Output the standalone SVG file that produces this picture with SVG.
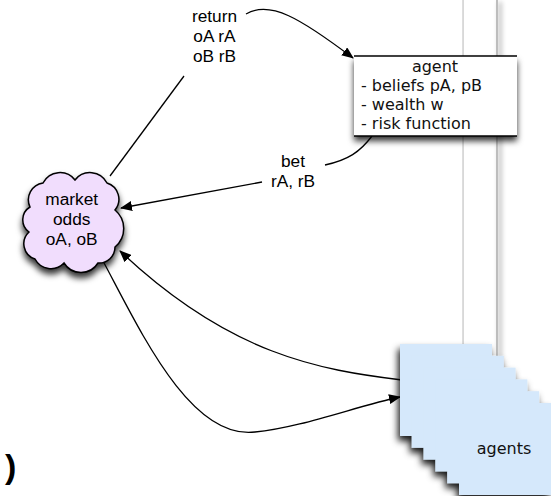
<svg xmlns="http://www.w3.org/2000/svg" width="551" height="496" viewBox="0 0 551 496">
<style>
.lbl{font-family:"Liberation Sans",Arial,sans-serif;font-size:17.3px;fill:#000;text-anchor:middle}
.dv{font-family:"DejaVu Sans",Verdana,sans-serif;font-size:16px;fill:#111}
.con{fill:none;stroke:#000;stroke-width:1.3}
</style>
<defs>
<filter id="sh" x="-20%" y="-20%" width="140%" height="150%">
<feDropShadow dx="0" dy="5" stdDeviation="3" flood-color="#000" flood-opacity="0.8"/>
</filter>
<filter id="ssh" x="-20%" y="-20%" width="140%" height="140%">
<feDropShadow dx="-2" dy="5" stdDeviation="3.5" flood-color="#000" flood-opacity="0.9"/>
</filter>
<filter id="lsh" filterUnits="userSpaceOnUse" x="480" y="-10" width="40" height="380">
<feDropShadow dx="3" dy="2" stdDeviation="2.5" flood-color="#000" flood-opacity="0.45"/>
</filter>
<marker id="ah" viewBox="0 0 12 10" refX="11" refY="5" markerWidth="12" markerHeight="10" markerUnits="userSpaceOnUse" orient="auto">
<path d="M0,0 L12,5 L0,10 Z" fill="#000"/>
</marker>
</defs>
<rect width="551" height="496" fill="#fff"/>
<g id="lanes">
<rect x="462.3" y="0" width="1.5" height="345" fill="#cfcfcf"/>
<rect x="496" y="0" width="2" height="358" fill="#bdbdbd" filter="url(#lsh)"/>
</g>
<g id="connectors">
<path class="con" d="M110,176 L184,76"/>
<path class="con" d="M246,14 C270,0 300,18 353,58" marker-end="url(#ah)"/>
<path class="con" d="M372,136 C360,152 348,160 325,165"/>
<path class="con" d="M262,182 L121,208" marker-end="url(#ah)"/>
<path class="con" d="M103,261 C140,330 190,440 255,432 C300,428 360,405 400,397" marker-end="url(#ah)"/>
<path class="con" d="M402,380 C320,370 230,355 120,251" marker-end="url(#ah)"/>
</g>
<g id="labels">
<text class="lbl" x="214.5" y="21.7">return</text>
<text class="lbl" x="214.5" y="42.3">oA rA</text>
<text class="lbl" x="214.5" y="62.3">oB rB</text>
<text class="lbl" x="293" y="166.7">bet</text>
<text class="lbl" x="293" y="186.7">rA, rB</text>
</g>
<g id="market">
<path filter="url(#sh)" fill="#f1ddfd" stroke="#000" stroke-width="1.5" d="M30,207 A17,17 0 0 1 43,183 A19,19 0 0 1 75,180 A19,19 0 0 1 107,183 A17,17 0 0 1 115,210 A24,24 0 0 1 115,247 A16,16 0 0 1 98,263 A20,20 0 0 1 64,263 A18,18 0 0 1 35,259 A16,16 0 0 1 29,232 A15,15 0 0 1 30,207 Z"/>
<text class="lbl" x="71.7" y="205">market</text>
<text class="lbl" x="71.7" y="225">odds</text>
<text class="lbl" x="71.7" y="245">oA, oB</text>
</g>
<g id="agent">
<rect x="354" y="56" width="163" height="80" fill="#fff" filter="url(#sh)"/>
<line x1="354" y1="56" x2="517" y2="56" stroke="#000" stroke-width="1.5"/>
<line x1="354" y1="136" x2="517" y2="136" stroke="#000" stroke-width="1.5"/>
<text class="dv" x="435" y="71.7" text-anchor="middle">agent</text>
<text class="dv" x="361" y="90.7">- beliefs pA, pB</text>
<text class="dv" x="361" y="110">- wealth w</text>
<text class="dv" x="361" y="129">- risk function</text>
</g>
<g id="agents">
<g fill="#d5e8fb" filter="url(#ssh)">
<rect x="400" y="344" width="92" height="92"/>
<rect x="411.8" y="355.8" width="92" height="92"/>
<rect x="423.6" y="367.6" width="92" height="92"/>
<rect x="435.4" y="379.4" width="92" height="92"/>
<rect x="447.2" y="391.2" width="92" height="92"/>
<rect x="459" y="403" width="92" height="92"/>
</g>
<text class="dv" x="504" y="454" text-anchor="middle">agents</text>
</g>
<text x="5" y="478" font-family="Liberation Sans, Arial, sans-serif" font-size="34" font-weight="bold" fill="#000">)</text>
</svg>
